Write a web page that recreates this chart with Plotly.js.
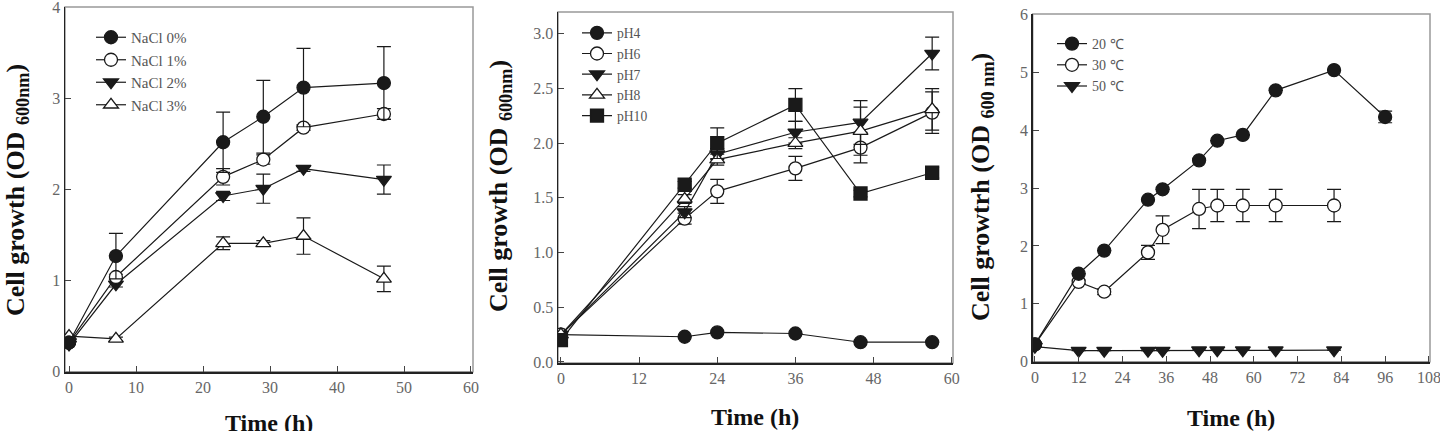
<!DOCTYPE html>
<html>
<head>
<meta charset="utf-8">
<script src="https://cdn.plot.ly/plotly-3.0.1.min.js"></script>
<style>html,body{margin:0;padding:0;background:#fff;}#chart{width:1440px;height:431px;}</style>
</head>
<body>
<div id="chart"></div>
<script>
// ---- Panel 1: NaCl ----
const naclTime = [0, 7, 23, 29, 35, 47];
const nacl0 = [0.32, 1.27, 2.52, 2.80, 3.12, 3.17];
const nacl0Err = [0, 0.25, 0.33, 0.40, 0.43, 0.40];
const nacl1 = [0.32, 1.04, 2.14, 2.33, 2.68, 2.83];
const nacl1Err = [0, 0.03, 0.09, 0.05, 0.03, 0.06];
const nacl2 = [0.30, 0.96, 1.93, 2.01, 2.23, 2.11];
const nacl2Err = [0, 0.03, 0.05, 0.16, 0.03, 0.16];
const nacl3 = [0.39, 0.36, 1.41, 1.41, 1.49, 1.02];
const nacl3Err = [0, 0.02, 0.07, 0.03, 0.20, 0.14];
const naclNames = ["NaCl 0%", "NaCl 1%", "NaCl 2%", "NaCl 3%"];

// ---- Panel 2: pH ----
const phTime = [0, 19, 24, 36, 46, 57];
const ph4 = [0.25, 0.23, 0.27, 0.26, 0.18, 0.18];
const ph4Err = [0, 0, 0, 0, 0, 0];
const ph6 = [0.25, 1.31, 1.56, 1.77, 1.96, 2.28];
const ph6Err = [0, 0.05, 0.11, 0.11, 0.14, 0.19];
const ph7 = [0.25, 1.37, 1.90, 2.10, 2.19, 2.82];
const ph7Err = [0, 0.05, 0.05, 0.10, 0.20, 0.15];
const ph8 = [0.25, 1.49, 1.85, 2.00, 2.11, 2.31];
const ph8Err = [0, 0.04, 0.05, 0.05, 0.22, 0.19];
const ph10 = [0.20, 1.62, 2.00, 2.35, 1.54, 1.73];
const ph10Err = [0, 0.03, 0.14, 0.15, 0.03, 0.05];
const phNames = ["pH4", "pH6", "pH7", "pH8", "pH10"];

// ---- Panel 3: Temperature ----
const tempTime20 = [0, 12, 19, 31, 35, 45, 50, 57, 66, 82, 96];
const temp20 = [0.30, 1.52, 1.92, 2.80, 2.98, 3.48, 3.82, 3.92, 4.69, 5.04, 4.23];
const temp20Err = [0, 0, 0, 0, 0, 0, 0, 0, 0, 0, 0.10];
const tempTime = [0, 12, 19, 31, 35, 45, 50, 57, 66, 82];
const temp30 = [0.30, 1.38, 1.21, 1.89, 2.28, 2.64, 2.70, 2.70, 2.70, 2.70];
const temp30Err = [0, 0.03, 0.05, 0.12, 0.24, 0.34, 0.28, 0.28, 0.28, 0.28];
const temp50 = [0.26, 0.19, 0.19, 0.19, 0.19, 0.20, 0.20, 0.20, 0.20, 0.20];
const temp50Err = [0, 0, 0, 0, 0, 0, 0, 0, 0, 0];
const tempNames = ["20 \u2103", "30 \u2103", "50 \u2103"];

const SERIF = "Liberation Serif, Times New Roman, serif";
const INK = "#1a1a1a";

function tr(x, y, err, name, symbol, fill, xa, ya, leg) {
  return {
    type: "scatter", mode: "lines+markers", x: x, y: y, name: name,
    xaxis: xa, yaxis: ya, legend: leg,
    line: {color: INK, width: 1.2},
    marker: {symbol: symbol, size: 13, color: fill, line: {color: INK, width: 1.3}},
    error_y: {type: "data", array: err, visible: true, color: INK, thickness: 1.2, width: 7}
  };
}

const data = [
  tr(naclTime, nacl3, nacl3Err, naclNames[3], "triangle-up", "#fff", "x", "y", "legend"),
  tr(naclTime, nacl2, nacl2Err, naclNames[2], "triangle-down", INK, "x", "y", "legend"),
  tr(naclTime, nacl1, nacl1Err, naclNames[1], "circle", "#fff", "x", "y", "legend"),
  tr(naclTime, nacl0, nacl0Err, naclNames[0], "circle", INK, "x", "y", "legend"),

  tr(phTime, ph4, ph4Err, phNames[0], "circle", INK, "x2", "y2", "legend2"),
  tr(phTime, ph6, ph6Err, phNames[1], "circle", "#fff", "x2", "y2", "legend2"),
  tr(phTime, ph7, ph7Err, phNames[2], "triangle-down", INK, "x2", "y2", "legend2"),
  tr(phTime, ph8, ph8Err, phNames[3], "triangle-up", "#fff", "x2", "y2", "legend2"),
  tr(phTime, ph10, ph10Err, phNames[4], "square", INK, "x2", "y2", "legend2"),

  tr(tempTime, temp50, temp50Err, tempNames[2], "triangle-down", INK, "x3", "y3", "legend3"),
  tr(tempTime, temp30, temp30Err, tempNames[1], "circle", "#fff", "x3", "y3", "legend3"),
  tr(tempTime20, temp20, temp20Err, tempNames[0], "circle", INK, "x3", "y3", "legend3")
];

function xax(dom, range, dtick, anchor) {
  return {
    domain: dom, range: range, dtick: dtick, tick0: 0, anchor: anchor,
    showgrid: false, zeroline: false, showline: true, linecolor: "#222", linewidth: 2,
    ticks: "inside", ticklen: 6, tickcolor: "#444", tickwidth: 1, ticklabeloverflow: "allow",
    tickfont: {family: SERIF, size: 16, color: "#666"}
  };
}
function yax(dom, range, dtick, anchor, fmt) {
  return {
    domain: dom, range: range, dtick: dtick, tick0: 0, anchor: anchor, tickformat: fmt,
    showgrid: false, zeroline: false, showline: true, linecolor: "#222", linewidth: 1.5,
    ticks: "inside", ticklen: 6, tickcolor: "#444", tickwidth: 1, ticklabeloverflow: "allow",
    tickfont: {family: SERIF, size: 16, color: "#666"}
  };
}

function frame(xr, yr) {
  return {type: "rect", xref: xr + " domain", yref: yr + " domain", x0: 0, x1: 1, y0: 0, y1: 1,
          line: {color: "#999", width: 1.5}, layer: "below"};
}

function ytitle(x, y, sub, word) {
  return {xref: "paper", yref: "paper", x: x / 1440, y: 1 - y / 431, xanchor: "center", yanchor: "middle",
          textangle: -90, showarrow: false,
          text: "<b>Cell " + word + " (OD <sub>" + sub + "</sub>)</b>",
          font: {family: SERIF, size: 26, color: "#111"}};
}
function xtitle(x, y) {
  return {xref: "paper", yref: "paper", x: x / 1440, y: 1 - y / 431, xanchor: "center", yanchor: "middle",
          showarrow: false, text: "<b>Time (h)</b>",
          font: {family: SERIF, size: 24, color: "#111"}};
}

const layout = {
  width: 1440, height: 431,
  margin: {l: 0, r: 0, t: 0, b: 0},
  paper_bgcolor: "#fff", plot_bgcolor: "#fff",
  showlegend: true,
  xaxis: xax([65 / 1440, 473 / 1440], [-0.6, 60.3], 10, "y"),
  yaxis: yax([1 - 371.7 / 431, 1 - 7 / 431], [0, 4.005], 1, "x", ""),
  xaxis2: xax([558 / 1440, 953 / 1440], [-0.45, 60.2], 12, "y2"),
  yaxis2: yax([1 - 363 / 431, 1 - 12 / 431], [-0.01, 3.2], 0.5, "x2", ".1f"),
  xaxis3: xax([1032.7 / 1440, 1430 / 1440], [-0.6, 108.3], 12, "y3"),
  yaxis3: yax([1 - 361.7 / 431, 1 - 14 / 431], [0, 6.01], 1, "x3", ""),
  legend: {x: 91 / 1440, y: 1 - 21 / 431, xanchor: "left", yanchor: "top", traceorder: "reversed",
           bgcolor: "rgba(0,0,0,0)", font: {family: SERIF, size: 15, color: "#555"}},
  legend2: {x: 577 / 1440, y: 1 - 17.5 / 431, xanchor: "left", yanchor: "top", traceorder: "normal",
            bgcolor: "rgba(0,0,0,0)", font: {family: SERIF, size: 13.6, color: "#555"}},
  legend3: {x: 1052 / 1440, y: 1 - 28 / 431, xanchor: "left", yanchor: "top", traceorder: "reversed",
            bgcolor: "rgba(0,0,0,0)", font: {family: SERIF, size: 14, color: "#555"}},
  shapes: [frame("x", "y"), frame("x2", "y2"), frame("x3", "y3")],
  annotations: [
    ytitle(17, 190, "600nm", "growth"),
    ytitle(500, 186, "600nm", "growth"),
    ytitle(982, 187, "600 nm", "growtrh"),
    xtitle(269, 423),
    xtitle(755, 417),
    xtitle(1231, 418)
  ]
};

Plotly.newPlot("chart", data, layout, {staticPlot: true, displayModeBar: false});
</script>
</body>
</html>
